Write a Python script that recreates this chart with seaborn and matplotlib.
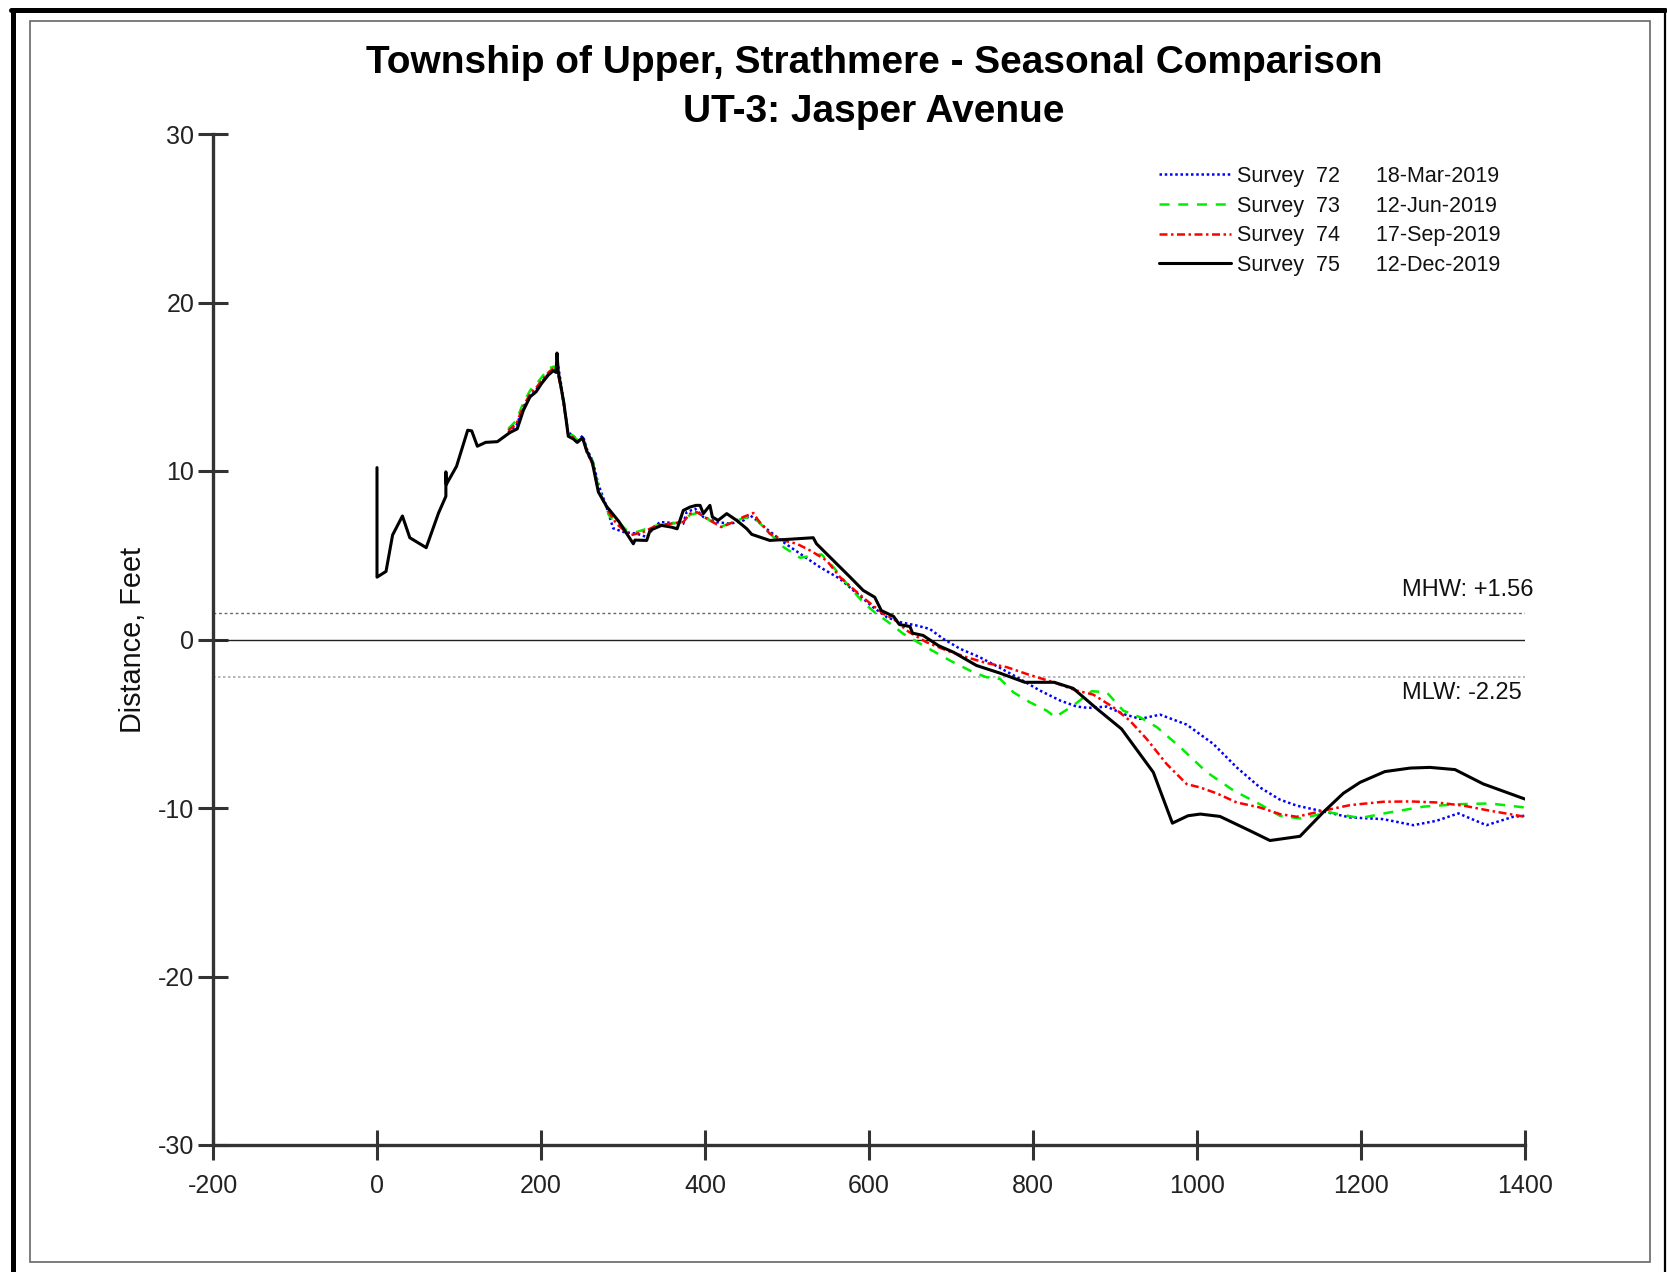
import matplotlib
matplotlib.use("Agg")
import matplotlib.pyplot as plt
from matplotlib.lines import Line2D
from matplotlib.patches import Rectangle
import seaborn as sns
import pandas as pd

# ---------------- data ----------------
s72_x = [160, 170, 178, 187, 195, 203, 210, 216, 221, 225, 229, 233, 239, 245, 251, 256, 263, 270, 279, 288,
         300.6, 317, 329, 337, 345, 373.5, 377.6, 388, 398, 414, 431, 447, 455, 463, 475, 495.5, 516, 540,
         564.6, 581, 605, 621.6, 638, 658, 674, 690.6, 711, 735, 760, 784, 808.5, 833, 853.3, 867.5, 890,
         910, 930.5, 955, 987.4, 1020, 1048.4, 1076.8, 1101, 1121.6, 1150, 1186.6, 1227, 1263.8, 1292,
         1318.7, 1353, 1385.7, 1400]
s72_y = [12.3, 12.7, 13.7, 14.5, 14.9, 15.4, 15.8, 16.0, 16.2, 15.0, 13.6, 12.3, 12.1, 11.8, 12.1, 11.3, 10.6, 9.2, 8.0, 6.6,
         6.38, 6.28, 6.08, 6.6, 6.97, 6.87, 7.56, 7.76, 7.27, 6.97, 6.87, 7.07, 7.37, 7.07, 6.57, 5.78, 5.09, 4.3,
         3.6, 2.91, 1.92, 1.33, 1.03, 0.83, 0.63, 0.04, -0.55, -1.05, -1.69, -2.34, -3.03, -3.62, -3.98, -4.06, -3.98,
         -4.42, -4.71, -4.46, -5.05, -6.2, -7.59, -8.78, -9.5, -9.86, -10.16, -10.56, -10.66, -11.02, -10.76,
         -10.32, -11.02, -10.52, -10.46]

s73_x = [160, 170, 178, 187, 195, 203, 210, 216, 220, 225, 229, 233, 239, 245, 251, 256, 263, 270, 284, 292,
         304.5, 317, 341, 373.5, 381.7, 390, 406, 420, 434.5, 446.7, 457, 465, 479, 495.5, 516, 532, 542,
         556.5, 573, 593, 609, 621.6, 641.8, 670, 698.8, 727, 743.5, 760, 776, 796, 816.6, 827, 849, 871.6,
         889.8, 910, 930.5, 951, 979.5, 1012, 1044.8, 1077.6, 1101, 1125.6, 1162, 1198.8, 1235, 1276, 1321,
         1357, 1400]
s73_y = [12.5, 13.0, 14.0, 14.8, 15.2, 15.7, 16.1, 16.2, 15.8, 14.9, 13.7, 12.3, 12.1, 11.8, 12.0, 11.2, 10.6, 9.0, 7.27, 7.07,
         6.48, 6.38, 6.77, 6.97, 7.4, 7.5, 7.07, 6.7, 6.97, 7.2, 7.3, 7.0, 6.3, 5.49, 4.85, 4.99, 5.05,
         4.3, 3.31, 2.2, 1.53, 1.1, 0.34, -0.46, -1.25, -1.94, -2.24, -2.34, -3.13, -3.72, -4.22, -4.61, -3.92, -3.07,
         -3.13, -4.22, -4.61, -5.2, -6.39, -7.88, -8.97, -9.8, -10.46, -10.62, -10.26, -10.6, -10.26, -9.92, -9.77,
         -9.73, -9.97]

s74_x = [160, 170, 178, 187, 195, 203, 210, 216, 220, 225, 229, 233, 239, 245, 251, 256, 263, 270, 284, 292,
         308.5, 324.8, 341, 373.5, 381.7, 390, 406, 420, 434.5, 446.7, 459, 465, 479, 495.5, 512, 528, 548.4,
         564.6, 581, 597, 617.5, 631.7, 646, 670, 694.7, 719, 743.5, 768, 792, 825, 853, 873.5, 897.9, 918,
         938.6, 963, 987.4, 1003.7, 1024, 1048.4, 1076.8, 1101, 1121.6, 1154, 1186.6, 1227, 1260, 1292, 1325,
         1357, 1400]
s74_y = [12.4, 12.8, 13.8, 14.6, 15.0, 15.5, 15.9, 16.1, 15.9, 14.8, 13.5, 12.2, 12.0, 11.7, 12.0, 11.1, 10.4, 8.8, 7.47, 6.87,
         6.18, 6.38, 6.77, 6.97, 7.47, 7.56, 7.07, 6.67, 6.97, 7.27, 7.51, 7.07, 6.28, 5.88, 5.68, 5.29, 4.69,
         3.7, 2.99, 2.32, 1.53, 1.17, 0.53, -0.16, -0.65, -1.05, -1.4, -1.64, -2.04, -2.54, -3.03, -3.27, -4.02, -4.81,
         -5.9, -7.39, -8.58, -8.78, -9.13, -9.67, -9.97, -10.36, -10.52, -10.16, -9.83, -9.63, -9.61, -9.67, -9.86,
         -10.16, -10.52]

s75_x = [0, 0, 11, 19, 31, 40, 60, 75, 84, 84, 84.5, 97, 110.6, 115.5, 122.4, 132.5, 146.8, 162, 171, 178.5,
         186.6, 194, 200.8, 209, 215, 218.5, 219.5, 221, 228, 233.3, 239.5, 244, 250.6, 255.7, 262.6, 270, 280,
         295, 312.6, 314.6, 328.9, 333, 347, 359, 366, 373.5, 381.7, 389, 394, 398, 406, 409, 416, 426.5, 438.6,
         451, 457, 479, 499.6, 532, 536, 556.5, 577, 593, 607, 615, 630, 637, 650, 653, 666, 684.6, 702.8, 731,
         760, 790, 826, 849, 877.7, 908, 946.7, 970, 989, 1004, 1028, 1064.6, 1089, 1125.6, 1154, 1178.4, 1198.8,
         1229, 1260, 1284, 1314.6, 1349, 1400]
s75_y = [10.2, 3.7, 4.04, 6.2, 7.33, 6.04, 5.45, 7.5, 8.5, 9.95, 9.2, 10.28, 12.42, 12.38, 11.47, 11.7, 11.74, 12.28, 12.5, 13.6,
         14.4, 14.7, 15.2, 15.7, 15.95, 15.85, 17.0, 15.9, 14.0, 12.06, 11.9, 11.7, 11.97, 11.2, 10.5, 8.75, 7.9,
         7.0, 5.68, 5.9, 5.88, 6.48, 6.77, 6.67, 6.57, 7.66, 7.86, 7.96, 7.96, 7.47, 7.96, 7.27, 7.07, 7.47, 7.07,
         6.57, 6.24, 5.88, 5.94, 6.04, 5.68, 4.69, 3.7, 2.91, 2.51, 1.72, 1.37, 0.89, 0.77, 0.38, 0.24, -0.36, -0.75, -1.54,
         -2.0, -2.54, -2.54, -2.9, -4.1, -5.31, -7.88, -10.9, -10.46, -10.36, -10.5, -11.35, -11.93, -11.68, -10.25, -9.13, -8.48,
         -7.84, -7.63, -7.59, -7.72, -8.57, -9.47]

survey_ids = ["72", "73", "74", "75"]
survey_dates = ["18-Mar-2019", "12-Jun-2019", "17-Sep-2019", "12-Dec-2019"]
MHW = 1.56
MLW = -2.25
title_lines = ["Township of Upper, Strathmere - Seasonal Comparison", "UT-3: Jasper Avenue"]
x_ticks = [-200, 0, 200, 400, 600, 800, 1000, 1200, 1400]
y_ticks = [-30, -20, -10, 0, 10, 20, 30]

# ---------------- style ----------------
sns.set_theme(style="white")
plt.rcParams["font.family"] = ["Liberation Sans", "DejaVu Sans"]
plt.rcParams["axes.unicode_minus"] = False

W, H = 1667, 1272
fig = plt.figure(figsize=(W / 100, H / 100), dpi=100)
ax = fig.add_axes([213 / W, 1 - 1145 / H, (1525 - 213) / W, (1145 - 134) / H])

series = [
    (s72_x, s72_y, "#0000ff", 1.8, (1.0, 1.1)),
    (s73_x, s73_y, "#00ee00", 1.8, (4.0, 3.5)),
    (s74_x, s74_y, "#ff0000", 1.8, (3.2, 1.4, 1.0, 1.4)),
    (s75_x, s75_y, "#000000", 2.2, None),
]
handles = []
for (xs, ys, col, lw, dash), sid, date in zip(series, survey_ids, survey_dates):
    df = pd.DataFrame({"x": xs, "y": ys})
    sns.lineplot(data=df, x="x", y="y", sort=False, estimator=None, color=col,
                 linewidth=lw, ax=ax, legend=False)
    ln = ax.lines[-1]
    if dash is not None:
        ln.set_dashes(dash)
    ln.set_zorder(3)
    handles.append(ln)

labels = [f"Survey  {sid}      {d}" for sid, d in zip(survey_ids, survey_dates)]

# reference lines
ax.axhline(0, color="#222222", lw=1.0, zorder=2)
ax.axhline(MHW, color="#666666", lw=1.0, ls=(0, (2, 2)), zorder=2)
ax.axhline(MLW, color="#aaaaaa", lw=1.2, ls=(0, (1.5, 1.5)), zorder=2)
ax.text(1250, 2.95, f"MHW: +{MHW:.2f}", fontsize=17, ha="left", va="center", color="#111111")
ax.text(1250, -3.15, f"MLW: {MLW:.2f}", fontsize=17, ha="left", va="center", color="#111111")

ax.set_xlim(-200, 1400)
ax.set_ylim(-30, 30)
ax.set_xticks(x_ticks)
ax.set_yticks(y_ticks)
ax.set_xlabel("")
ax.set_ylabel("Distance, Feet", fontsize=20.8, color="#111111", labelpad=8)
ax.tick_params(axis="both", which="major", bottom=True, left=True, direction="inout",
               length=21, width=2.2, color="#333333", labelsize=18, labelcolor="#222222")
ax.tick_params(axis="x", pad=10.5)
ax.tick_params(axis="y", pad=3)
for s in ["top", "right"]:
    ax.spines[s].set_visible(False)
for s in ["left", "bottom"]:
    ax.spines[s].set_color("#333333")
    ax.spines[s].set_linewidth(2.4)
ax.patch.set_alpha(0)

leg = ax.legend(handles, labels, loc="upper left", bbox_to_anchor=(1159 / W, 1 - 166 / H),
                bbox_transform=fig.transFigure, frameon=False, fontsize=15.5,
                handlelength=3.35, handletextpad=0.25, labelspacing=0.4, borderpad=0, borderaxespad=0)
for t in leg.get_texts():
    t.set_color("#111111")

# title
fig.text(874 / W, 1 - 63 / H, title_lines[0], fontsize=28, fontweight="bold", ha="center",
         va="center", color="black")
fig.text(874 / W, 1 - 112 / H, title_lines[1], fontsize=28, fontweight="bold", ha="center",
         va="center", color="black")

# frames
fig.patches.append(Rectangle((30 / W, 1 - 1262 / H), (1650 - 30) / W, (1262 - 21) / H,
                             transform=fig.transFigure, fill=False, edgecolor="#666666", lw=1.2))
fig.lines.append(Line2D([12.5 / W, 12.5 / W], [0, 1 - 9.5 / H], transform=fig.transFigure, color="black", lw=3.6))
fig.lines.append(Line2D([11 / W, 1665 / W], [1 - 9.5 / H, 1 - 9.5 / H], transform=fig.transFigure, color="black", lw=3.6))
fig.lines.append(Line2D([1664.5 / W, 1664.5 / W], [0, 1 - 9.5 / H], transform=fig.transFigure, color="black", lw=1.6))

fig.savefig("out.png", dpi=100, facecolor="white")
